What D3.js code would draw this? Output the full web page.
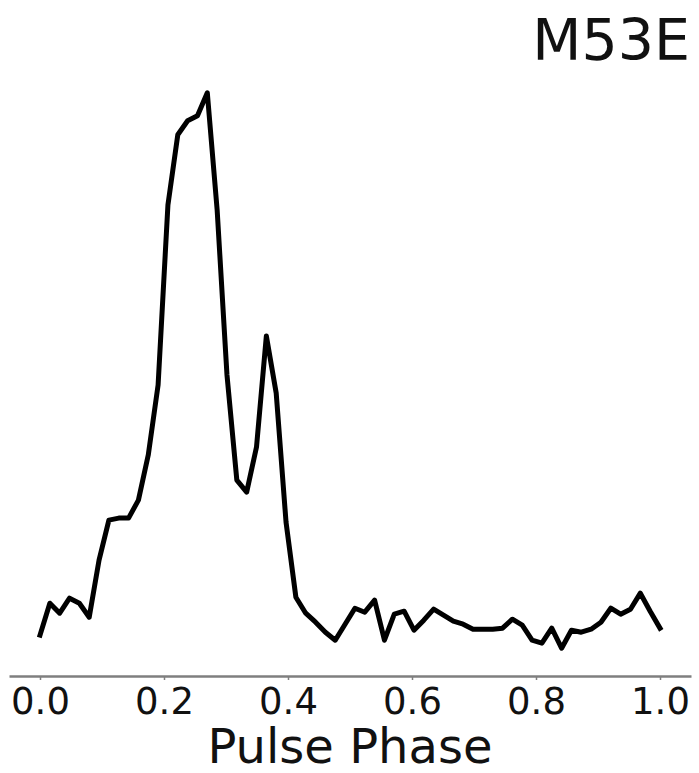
<!DOCTYPE html>
<html>
<head>
<meta charset="utf-8">
<script src="https://cdn.jsdelivr.net/npm/d3@7"></script>
<style>
  body { margin: 0; background: #fff; }
  text { font-family: "DejaVu Sans", sans-serif; }
</style>
</head>
<body>
<svg></svg>
<script>
var viewWidth = 699;
var viewHeight = 773;

// pulse profile, 64 phase bins (arbitrary counts)
var counts = [65, 97, 87, 102, 97, 83, 140, 180, 182, 182,
              200, 245, 315, 495, 565, 579, 584, 607, 490, 325,
              220, 208, 253, 364, 307, 178, 103, 87, 78, 68,
              60, 76, 92, 88, 100, 60, 86, 89, 70, 80,
              91, 85, 79, 76, 71, 71, 71, 72, 81, 75,
              60, 57, 72, 52, 70, 68, 71, 78, 92, 86,
              91, 107, 89, 72];
var phase = counts.map(function(d, i) { return i / (counts.length - 1); });
var tickValues = [0.0, 0.2, 0.4, 0.6, 0.8, 1.0];
var title = "M53E";
var xLabel = "Pulse Phase";

var margin = {top: 65, right: 8, bottom: 97, left: 9};
var width = viewWidth - margin.left - margin.right;
var height = viewHeight - margin.top - margin.bottom;

var svg = d3.select("svg")
    .attr("width", viewWidth)
    .attr("height", viewHeight)
    .append("g")
    .attr("transform", "translate(" + margin.left + "," + margin.top + ")");

// matplotlib style 5% padding
var x = d3.scaleLinear()
    .domain([-0.05, 1.05])
    .range([0, width]);

var yMin = d3.min(counts), yMax = d3.max(counts);
var pad = (yMax - yMin) * 0.05;
var y = d3.scaleLinear()
    .domain([yMin - pad, yMax + pad])
    .range([height, 0]);

var xAxis = svg.append("g")
    .attr("transform", "translate(0," + height + ")")
    .call(d3.axisBottom(x)
        .tickValues(tickValues)
        .tickFormat(d3.format(".1f"))
        .tickSizeInner(4)
        .tickSizeOuter(0)
        .tickPadding(8));

xAxis.select(".domain")
    .attr("stroke", "#7f7f7f")
    .attr("stroke-width", 2.5);
xAxis.selectAll(".tick line")
    .attr("stroke", "#7f7f7f")
    .attr("stroke-width", 1.5);
xAxis.selectAll(".tick text")
    .attr("fill", "#111")
    .style("font-size", "37px")
    .style("font-family", "DejaVu Sans");

svg.append("text")
    .attr("x", x(0.5))
    .attr("y", height + 87)
    .attr("text-anchor", "middle")
    .style("font-size", "48px")
    .attr("fill", "#111")
    .text(xLabel);

svg.append("text")
    .attr("x", width - 1)
    .attr("y", 60 - margin.top)
    .attr("text-anchor", "end")
    .style("font-size", "57px")
    .attr("fill", "#111")
    .text(title);

var line = d3.line()
    .x(function(d, i) { return x(phase[i]); })
    .y(function(d) { return y(d); });

svg.append("path")
    .datum(counts)
    .attr("fill", "none")
    .attr("stroke", "#000")
    .attr("stroke-width", 5)
    .attr("stroke-linejoin", "round")
    .attr("stroke-linecap", "square")
    .attr("d", line);
</script>
</body>
</html>
